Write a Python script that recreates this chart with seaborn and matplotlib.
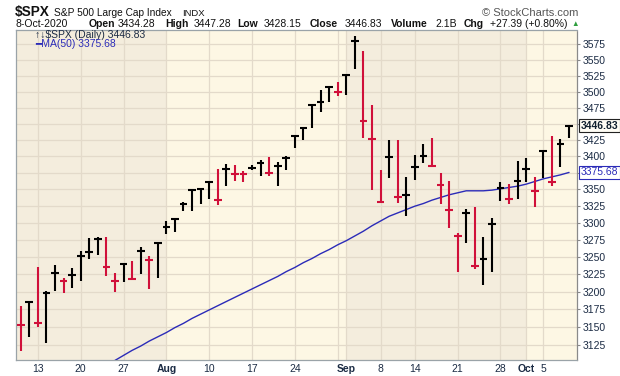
import numpy as np
import pandas as pd
import matplotlib
matplotlib.use('Agg')
import matplotlib.pyplot as plt
import matplotlib.transforms as mtransforms
from matplotlib.ticker import NullLocator, FixedLocator, FixedFormatter
import seaborn as sns

# trading days shown (Sep 7 was Labor Day)
days = pd.bdate_range('2020-07-09', '2020-10-08')
days = days[days != pd.Timestamp('2020-09-07')]

# daily high / low / close
high = [3179.8, 3186.8, 3235.3, 3200.9, 3238.3, 3220.4, 3233.5, 3258.6, 3277.3, 3279.3,
        3280.0, 3227.3, 3241.4, 3243.7, 3264.7, 3250.9, 3272.2, 3302.7, 3306.8, 3330.8,
        3351.0, 3352.5, 3363.3, 3381.0, 3387.9, 3387.2, 3378.5, 3387.6, 3395.1, 3399.5,
        3390.8, 3400.0, 3432.1, 3444.2, 3481.1, 3501.9, 3509.2, 3514.8, 3528.0, 3588.1,
        3564.9, 3479.2, 3380.0, 3424.8, 3425.6, 3369.0, 3402.9, 3419.5, 3428.9, 3375.2,
        3362.3, 3285.6, 3320.3, 3323.4, 3278.7, 3306.9, 3360.7, 3357.9, 3393.6, 3397.2,
        3369.1, 3409.6, 3431.7, 3426.3, 3447.3]
low = [3115.7, 3136.2, 3149.4, 3127.7, 3200.8, 3198.6, 3205.7, 3215.2, 3247.8, 3253.1,
       3222.7, 3200.1, 3214.3, 3216.2, 3225.0, 3204.1, 3220.3, 3284.5, 3286.4, 3317.4,
       3318.1, 3328.7, 3335.4, 3326.4, 3355.9, 3363.4, 3361.6, 3379.2, 3370.2, 3369.7,
       3354.7, 3379.3, 3413.1, 3425.8, 3444.2, 3468.4, 3484.3, 3493.3, 3494.6, 3535.2,
       3427.4, 3349.6, 3329.3, 3366.8, 3329.3, 3310.5, 3363.6, 3389.3, 3384.5, 3328.8,
       3292.4, 3229.1, 3271.0, 3232.6, 3209.5, 3228.4, 3332.9, 3327.9, 3335.2, 3361.4,
       3323.7, 3367.3, 3354.5, 3384.6, 3428.2]
close = [3152.1, 3185.0, 3155.2, 3197.5, 3226.6, 3215.6, 3224.7, 3251.8, 3257.3, 3276.0,
         3235.7, 3215.6, 3239.4, 3218.4, 3258.4, 3246.2, 3271.1, 3294.6, 3306.5, 3327.8,
         3349.2, 3351.3, 3360.5, 3333.7, 3380.4, 3373.4, 3372.9, 3382.0, 3389.8, 3374.9,
         3385.5, 3397.2, 3431.3, 3443.6, 3478.7, 3484.6, 3508.0, 3500.3, 3526.7, 3580.8,
         3455.1, 3427.0, 3331.8, 3399.0, 3339.2, 3341.0, 3383.5, 3401.2, 3385.5, 3357.0,
         3319.5, 3281.1, 3315.6, 3236.9, 3246.6, 3298.5, 3351.6, 3335.5, 3363.0, 3380.8,
         3348.4, 3408.6, 3361.0, 3419.4, 3446.83]
prev_close = 3169.9  # close before the first bar

# 50-day moving average (enters the chart from below on Jul 24)
ma50 = [np.nan] * 11 + [
    3103, 3110, 3117, 3123, 3130, 3136, 3142, 3149, 3155, 3162,
    3168, 3174, 3180, 3186, 3192, 3198, 3204, 3210, 3216, 3222,
    3229, 3235, 3242, 3248, 3255, 3261, 3268, 3274, 3281, 3288,
    3296, 3303, 3310, 3315, 3320, 3325, 3329, 3334, 3338, 3342,
    3345, 3348, 3348, 3348, 3349, 3351, 3353, 3355, 3358, 3362,
    3366, 3369, 3372, 3375.68]

# header numbers
last_open, last_high, last_low, last_close = 3434.28, 3447.28, 3428.15, 3446.83
last_ma = 3375.68
volume = '2.1B'
chg, chg_pct = 27.39, 0.80

# axis labels
xtick_days = ['2020-07-13', '2020-07-20', '2020-07-27', '2020-08-03', '2020-08-10',
              '2020-08-17', '2020-08-24', '2020-08-31', '2020-09-01', '2020-09-08',
              '2020-09-14', '2020-09-21', '2020-09-28', '2020-10-01', '2020-10-05']
xtick_labels = ['13', '20', '27', 'Aug', '10', '17', '24', '', 'Sep', '8',
                '14', '21', '28', 'Oct', '5']
month_starts = ['2020-08-03', '2020-09-01', '2020-10-01']
yticks = list(range(3125, 3576, 25))
hidden_yticks = [3450, 3375]  # covered by the price tags

sns.set_style('white')
plt.rcParams['font.family'] = ['Liberation Sans', 'DejaVu Sans']

x = np.arange(len(days))
pos = {d.strftime('%Y-%m-%d'): i for i, d in enumerate(days)}
prev = [prev_close] + close[:-1]
cols = ['#000000' if c >= p else '#D0103A' for c, p in zip(close, prev)]

fig = plt.figure(figsize=(6.2, 3.76), dpi=100)
ax = fig.add_axes([16 / 620, 16 / 376, 561 / 620, 330 / 376])

# month shading
dark, light = '#F4EDDD', '#FDF7E4'
bounds = [-1] + [pos[m] for m in month_starts] + [len(days) + 1]
for k in range(len(bounds) - 1):
    ax.axvspan(bounds[k], bounds[k + 1], color=dark if k % 2 == 0 else light, lw=0, zorder=0)

# moving average
sns.lineplot(x=x, y=ma50, color='#2B2BB8', lw=1.0, ax=ax, zorder=3)

# HLC bars
ax.vlines(x, low, high, colors=cols, lw=1.5, zorder=4)
ax.hlines(close, x - 0.45, x + 0.45, colors=cols, lw=1.5, zorder=4)

ax.set_yscale('log')
ax.set_ylim(3103.6, 3598.1)
ax.set_xlim(-0.55, 64.93)

ax.yaxis.tick_right()
ax.yaxis.set_major_locator(FixedLocator(yticks))
ax.yaxis.set_major_formatter(FixedFormatter(['' if v in hidden_yticks else str(v) for v in yticks]))
ax.yaxis.set_minor_locator(NullLocator())
ax.set_xticks([pos[d] for d in xtick_days])
ax.set_xticklabels(xtick_labels)
ax.set_xticks(x, minor=True)
ax.set_xlabel('')
ax.set_ylabel('')

lab_col = '#1B2B44'
ax.tick_params(axis='y', which='major', length=2, pad=2, labelsize=7.5,
               colors='#888888', labelcolor=lab_col)
ax.tick_params(axis='x', which='major', length=2, pad=1, labelsize=7.5,
               colors='#999999', labelcolor=lab_col)
ax.tick_params(axis='x', which='minor', length=2, colors='#999999')
for t in ax.get_xticklabels():
    if t.get_text() in ('Aug', 'Sep', 'Oct'):
        t.set_fontweight('bold')

ax.grid(True, which='major', color='#E3DACA', lw=0.9, zorder=1)
ax.set_axisbelow(True)
for s in ['left', 'top', 'bottom']:
    ax.spines[s].set_color('#9AA3A8')
    ax.spines[s].set_linewidth(0.9)
ax.spines['right'].set_color('#8A8A8A')
ax.spines['right'].set_linestyle((0, (1, 1)))
ax.spines['right'].set_linewidth(0.9)

# price tags on the right axis
tr = mtransforms.blended_transform_factory(ax.transAxes, ax.transData)
ax.text(1 + 4 / 561, last_close, f'{last_close:.2f}', transform=tr, ha='left', va='center',
        fontsize=7.5, fontweight='bold', color='#10202F', clip_on=False, zorder=6,
        bbox=dict(boxstyle='square,pad=0.15', fc='#FFFDF5', ec='#222222', lw=0.8))
ax.text(1 + 4 / 561, last_ma, f'{last_ma:.2f}', transform=tr, ha='left', va='center',
        fontsize=7.5, color='#2B2BB8', clip_on=False, zorder=6,
        bbox=dict(boxstyle='square,pad=0.15', fc='white', ec='#2B2BB8', lw=0.8))

# legend inside the plot
ax.text(18.8 / 561, 1 - 5 / 330, f'\u2191\u2193$SPX (Daily) {last_close:.2f}', transform=ax.transAxes,
        ha='left', va='center', fontsize=7.5, color=lab_col, zorder=6)
ax.text(18.8 / 561, 1 - 13.5 / 330, f'\u2501MA(50) {last_ma:.2f}', transform=ax.transAxes,
        ha='left', va='center', fontsize=7.5, color='#2B2BB8', zorder=6)

# header
def ftxt(px, py, s, **kw):
    fig.text(px / 620, 1 - py / 376, s, va='baseline', **kw)

ftxt(15, 16, '$SPX', fontsize=9.8, fontweight='bold', color='#111111')
ftxt(53.7, 16, 'S&P 500 Large Cap Index', fontsize=7.3, color='#111111')
ftxt(182.5, 16, 'INDX', fontsize=6.8, color='#111111')
ftxt(578, 15.5, '\u00a9 StockCharts.com', fontsize=8, color='#555555', ha='right')

line2 = [('8-Oct-2020', 16, False), ('Open', 88.2, True), (f'{last_open:.2f}', 117.9, False),
         ('High', 165.1, True), (f'{last_high:.2f}', 193.2, False),
         ('Low', 237.2, True), (f'{last_low:.2f}', 263.8, False),
         ('Close', 309.4, True), (f'{last_close:.2f}', 345.1, False),
         ('Volume', 390.7, True), (volume, 435.5, False),
         ('Chg', 464, True), (f'+{chg:.2f} (+{chg_pct:.2f}%)', 489.8, False)]
for s, px, bold in line2:
    ftxt(px, 27, s, fontsize=7.5, color='#111111', fontweight='bold' if bold else 'normal')
ftxt(571, 26, '\u25b2', fontsize=5.5, color='#2E9E3E')

fig.savefig('out.png', dpi=100)
